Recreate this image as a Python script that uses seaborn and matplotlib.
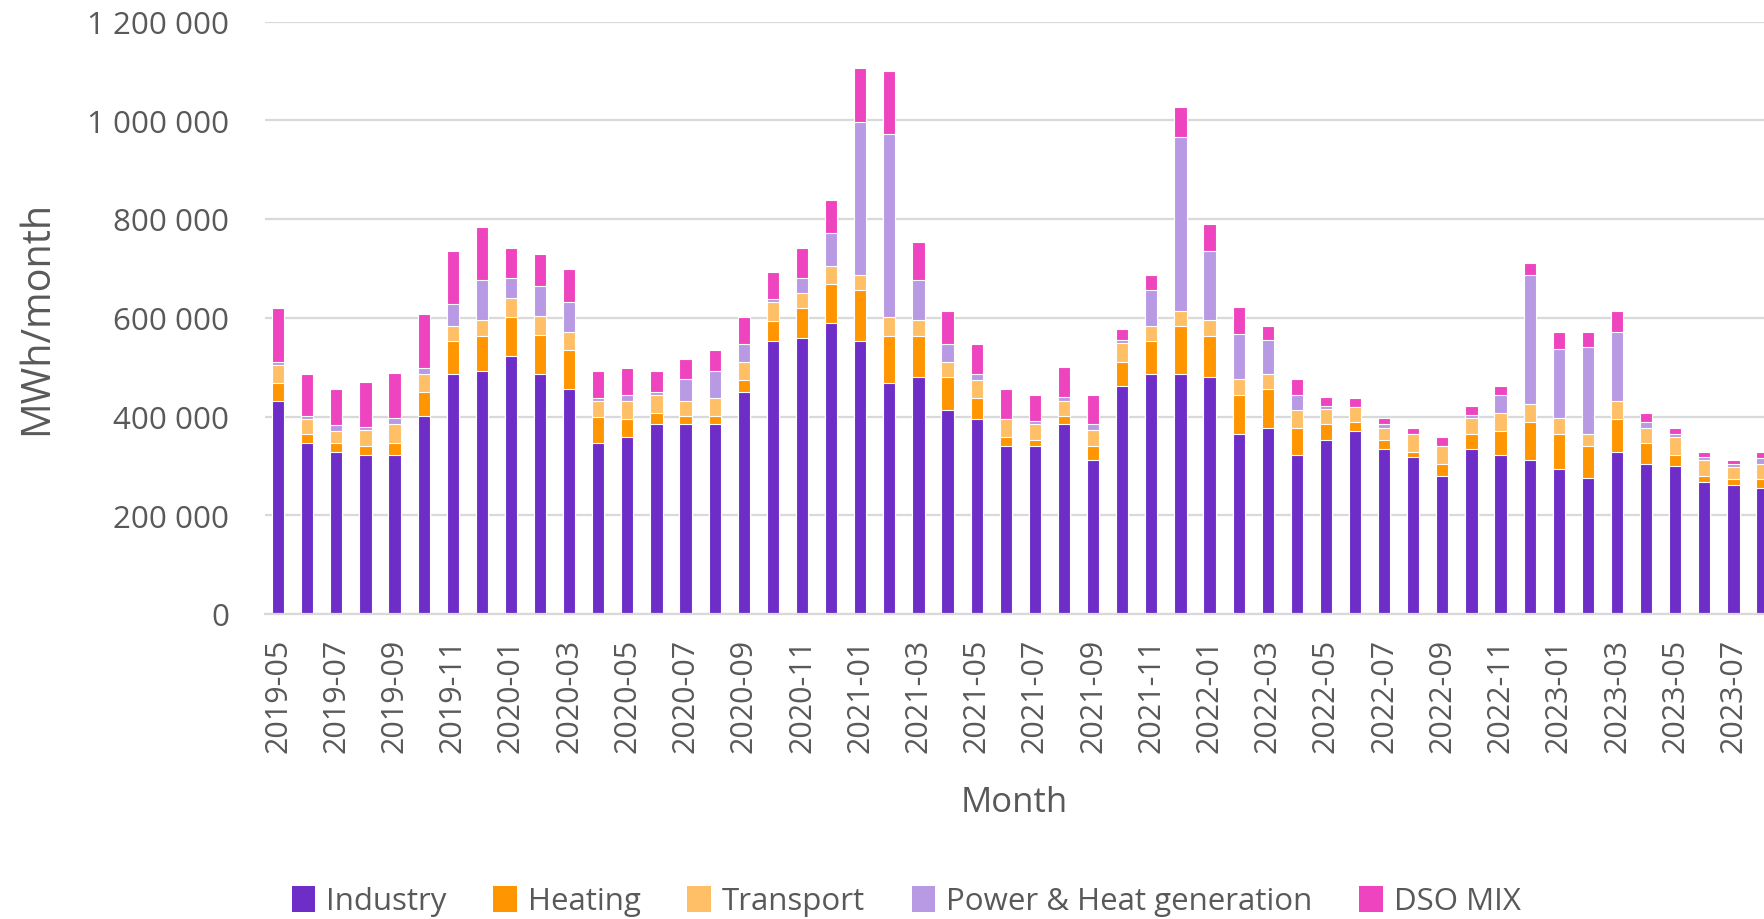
import numpy as np
import pandas as pd
import matplotlib
matplotlib.use("Agg")
import matplotlib.pyplot as plt
import seaborn as sns
from matplotlib.ticker import FuncFormatter
from matplotlib.patches import Patch

# monthly values, thousand MWh
months = pd.period_range("2019-05", "2023-08", freq="M").strftime("%Y-%m").tolist()

industry = [431, 346, 328, 322, 322, 401, 487, 492,
            523, 487, 456, 346, 359, 384, 384, 384, 449, 553, 559, 590,
            553, 468, 480, 413, 395, 341, 341, 384, 311, 462, 487, 487,
            480, 365, 377, 322, 353, 371, 335, 317, 280, 335, 322, 311,
            293, 275, 329, 304, 299, 268, 262, 256]
heating = [36, 18, 18, 19, 25, 49, 66, 72,
           78, 78, 79, 54, 36, 24, 17, 17, 25, 41, 61, 78,
           103, 96, 84, 67, 43, 18, 12, 17, 30, 49, 66, 96,
           84, 79, 79, 55, 31, 18, 18, 12, 24, 30, 49, 78,
           72, 66, 66, 42, 24, 12, 12, 18]
transport = [37, 31, 25, 31, 37, 37, 31, 31,
             38, 38, 36, 31, 36, 36, 31, 37, 36, 37, 31, 36,
             31, 38, 31, 31, 36, 36, 31, 31, 31, 37, 31, 31,
             31, 31, 31, 36, 31, 31, 24, 35, 36, 31, 36, 36,
             31, 24, 36, 31, 36, 31, 24, 30]
power_heat = [7, 6, 12, 7, 12, 12, 43, 81,
              42, 61, 60, 7, 12, 6, 43, 54, 37, 7, 30, 68,
              310, 370, 81, 36, 12, 0, 6, 7, 12, 6, 73, 352,
              141, 92, 67, 31, 6, 0, 7, 0, 0, 7, 36, 261,
              140, 176, 140, 12, 6, 6, 6, 12]
dso_mix = [108, 86, 73, 91, 92, 109, 108, 108,
           61, 66, 68, 54, 55, 43, 42, 43, 54, 54, 61, 67,
           108, 127, 78, 66, 60, 60, 54, 61, 60, 24, 30, 60,
           54, 54, 30, 31, 18, 18, 12, 12, 18, 18, 18, 24,
           36, 31, 42, 18, 12, 12, 7, 12]

series = ["Industry", "Heating", "Transport", "Power & Heat generation", "DSO MIX"]
colors = ["#6F2DC8", "#FF9500", "#FFBF66", "#B899E3", "#EE44BF"]

sns.set_theme(style="white")
plt.rcParams['font.family'] = ['Open Sans', 'DejaVu Sans']
grey = "#595959"

fig = plt.figure(figsize=(17.64, 9.2), dpi=100)
ax = fig.add_axes([265 / 1764, 1 - 615 / 920, 1 - 265 / 1764, (615 - 22.5) / 920])

# stacked bars: draw cumulative totals from the top layer down
data = [industry, heating, transport, power_heat, dso_mix]
tops = np.cumsum(np.array(data) * 1000, axis=0)
for i in reversed(range(len(series))):
    sns.barplot(x=months, y=tops[i], color=colors[i], saturation=1, width=0.42,
                edgecolor="white", linewidth=0.8, errorbar=None, ax=ax)

ax.set_ylim(0, 1_200_000)
ax.set_xlim(-0.45, 51.05)
ax.set_yticks(range(0, 1_200_001, 200_000))
ax.yaxis.set_major_formatter(FuncFormatter(lambda v, p: f"{int(v):,}".replace(",", " ")))
ax.set_xticks(range(0, len(months), 2))
ax.set_xticklabels(months[::2], rotation=90)
ax.tick_params(axis="x", length=0, pad=17, labelsize=22, labelcolor=grey)
ax.tick_params(axis="y", length=0, pad=26, labelsize=22.5, labelcolor=grey)

ax.yaxis.grid(True, color="#D9D9D9", linewidth=1.6)
ax.set_axisbelow(True)
for s in ["top", "right", "left"]:
    ax.spines[s].set_visible(False)
ax.spines["bottom"].set_color("#D9D9D9")
ax.spines["bottom"].set_linewidth(1.6)

ax.set_xlabel("Month", fontsize=25, color=grey, labelpad=24)
ax.set_ylabel("MWh/month", fontsize=28.5, color=grey)
ax.yaxis.set_label_coords(-(265 - 57) / (1764 - 265), (615 - 318) / (615 - 22.5))

handles = [Patch(facecolor=c, edgecolor="none") for c in colors]
fig.legend(handles, series, loc="center", bbox_to_anchor=(906 / 1764, 1 - 902 / 920),
           ncol=5, frameon=False, fontsize=22.5, handlelength=0.75, handleheight=0.9,
           handletextpad=0.35, columnspacing=1.5, labelcolor=grey)

fig.savefig("out.png", dpi=100)
